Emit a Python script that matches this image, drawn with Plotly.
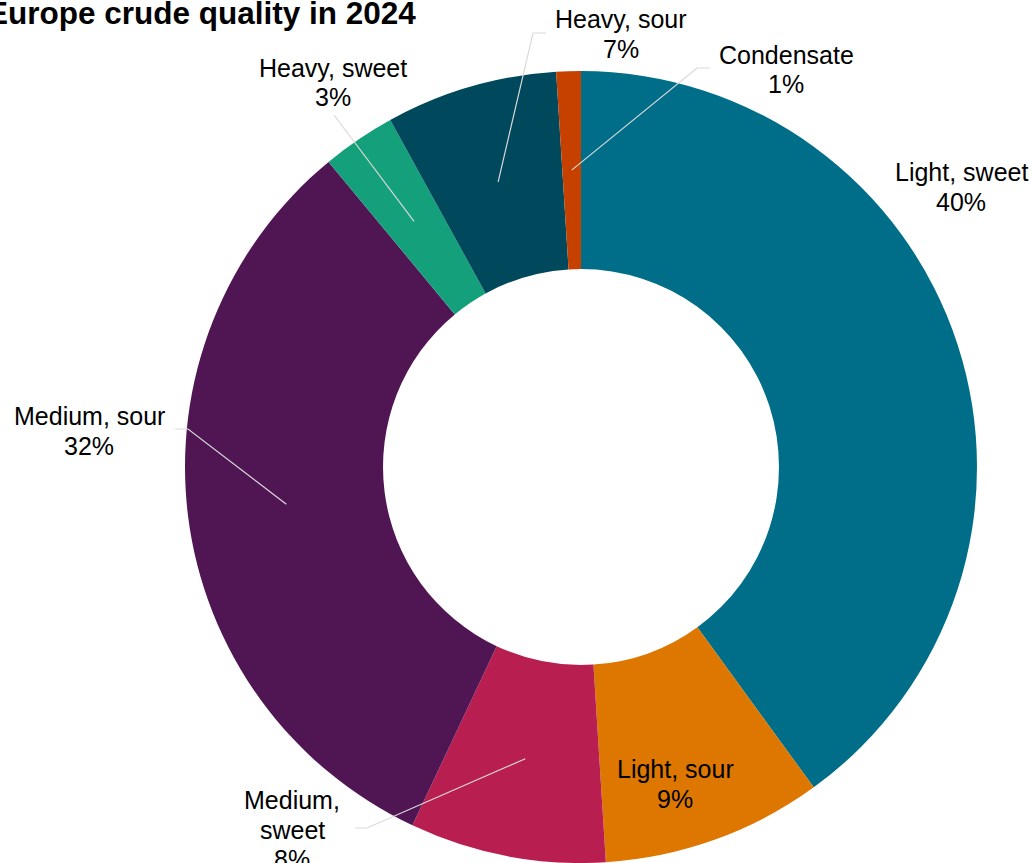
import math
import plotly.graph_objects as go

# Crude quality shares, Europe 2024 (percent)
categories = ["Light, sweet", "Light, sour", "Medium, sweet", "Medium, sour",
              "Heavy, sweet", "Heavy, sour", "Condensate"]
shares = [40, 9, 8, 32, 3, 7, 1]
colors = ["#006e89", "#dd7700", "#b81f50", "#501654", "#13a07a", "#00485c", "#c64100"]

W, H = 1035, 863
CX, CY, R = 581, 467, 396          # pie centre and outer radius in pixels
FONT = "Liberation Sans, Arial, sans-serif"
LABEL_SIZE = 25
LINE_GAP = 29.5
LEADER = "#d9d9d9"


def px(x, y):
    """Pixel position -> paper coordinates."""
    return x / W, 1 - y / H


# label layout: text lines, centre x, first-line centre y, leader elbow/tail (pixels)
label_layout = {
    "Light, sweet": dict(lines=["Light, sweet"], x=961, y=172, elbow=None),
    "Light, sour": dict(lines=["Light, sour"], x=675, y=769, elbow=None),
    "Medium, sweet": dict(lines=["Medium,", "sweet"], x=292, y=800,
                          elbow=(367, 828), tail=(355, 828)),
    "Medium, sour": dict(lines=["Medium, sour"], x=89, y=416,
                         elbow=(188, 429), tail=(175, 429)),
    "Heavy, sweet": dict(lines=["Heavy, sweet"], x=333, y=68,
                         elbow=(334, 115), tail=None),
    "Heavy, sour": dict(lines=["Heavy, sour"], x=621, y=19,
                        elbow=(533, 33), tail=(546, 33)),
    "Condensate": dict(lines=["Condensate"], x=786, y=55,
                       elbow=(697, 68), tail=(710, 68)),
}

fig = go.Figure(go.Pie(
    labels=categories,
    values=shares,
    hole=0.5,
    sort=False,
    direction="clockwise",
    rotation=0,
    marker=dict(colors=colors, line=dict(width=0)),
    textinfo="none",
    hoverinfo="label+percent",
    showlegend=False,
    domain=dict(x=[(CX - R) / W, (CX + R) / W], y=[(H - CY - R) / H, (H - CY + R) / H]),
))

annotations = []
shapes = []
total = sum(shares)
cum = 0.0
for cat, val in zip(categories, shares):
    mid = (cum + val / 2) / total * 2 * math.pi   # clockwise from 12 o'clock
    cum += val
    spec = label_layout[cat]
    text_lines = spec["lines"] + [f"{val / total * 100:.0f}%"]
    for i, t in enumerate(text_lines):
        ax, ay = px(spec["x"], spec["y"] + i * LINE_GAP)
        annotations.append(dict(
            text=t, x=ax, y=ay, xref="paper", yref="paper",
            xanchor="center", yanchor="middle", showarrow=False,
            font=dict(family=FONT, size=LABEL_SIZE, color="#000000"),
        ))
    if spec["elbow"] is not None:
        # leader starts inside the slice, at 3/4 of the radius on its mid angle
        sx = CX + 0.75 * R * math.sin(mid)
        sy = CY - 0.75 * R * math.cos(mid)
        pts = [(sx, sy), spec["elbow"]]
        if spec.get("tail"):
            pts.append(spec["tail"])
        path = "M " + " L ".join(f"{px(x, y)[0]:.5f},{px(x, y)[1]:.5f}" for x, y in pts)
        shapes.append(dict(type="path", path=path, xref="paper", yref="paper",
                           line=dict(color=LEADER, width=1.2), layer="above"))

# chart title, anchored at its right end
tx, ty = px(418, 13)
annotations.append(dict(
    text="<b>Europe crude quality in 2024</b>", x=tx, y=ty,
    xref="paper", yref="paper", xanchor="right", yanchor="middle",
    showarrow=False, font=dict(family=FONT, size=31.5, color="#000000"),
))

fig.update_layout(
    width=W, height=H,
    margin=dict(l=0, r=0, t=0, b=0),
    paper_bgcolor="white", plot_bgcolor="white",
    annotations=annotations, shapes=shapes,
)

fig.write_html("out.html")
